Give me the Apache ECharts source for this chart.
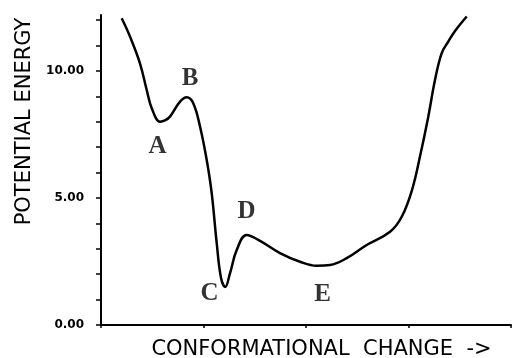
<!DOCTYPE html>
<html>
<head>
<meta charset="utf-8">
<script src="https://cdn.jsdelivr.net/npm/echarts@6/dist/echarts.min.js"></script>
<style>
html,body{margin:0;padding:0;background:#fff;}
#c{width:515px;height:358px;}
</style>
</head>
<body>
<div id="c"></div>
<script>
// Curve samples (conformational coordinate, potential energy)
var curveX = [0.202, 0.283, 0.380, 0.446, 0.495, 0.576, 0.624, 0.673, 0.771, 0.836, 0.900, 0.966, 1.031, 1.080, 1.129, 1.171, 1.212, 1.259, 1.324, 1.421, 1.535, 1.746, 1.941, 2.104, 2.234, 2.397, 2.592, 2.820, 2.934, 3.034, 3.112, 3.193, 3.259, 3.324, 3.388, 3.454, 3.568];
var curveY = [12.07, 11.35, 10.30, 9.25, 8.53, 8.00, 8.05, 8.20, 8.79, 8.96, 8.73, 7.81, 6.50, 5.19, 3.22, 1.85, 1.50, 2.04, 2.95, 3.54, 3.35, 2.83, 2.49, 2.33, 2.36, 2.63, 3.15, 3.67, 4.26, 5.31, 6.63, 8.20, 9.65, 10.70, 11.15, 11.57, 12.14];

// State labels
var stateNames = ['A', 'B', 'C', 'D', 'E'];
var stateX = [0.552, 0.868, 1.058, 1.420, 2.161];
var stateY = [7.03, 9.70, 1.22, 4.45, 1.18];

// Axis ticks
var yTickValues = [0, 1, 2, 3, 4, 5, 6, 7, 8, 9, 10, 11, 12];
var yLabelValues = [0, 5, 10];
var xTickValues = [0, 1, 2, 3, 4];

var curveData = curveX.map(function (x, i) { return [x, curveY[i]]; });
var stateData = stateNames.map(function (n, i) { return { name: n, value: [stateX[i], stateY[i]] }; });

var chart = echarts.init(document.getElementById('c'), null, { renderer: 'canvas' });
chart.setOption({
  animation: false,
  backgroundColor: '#ffffff',
  grid: { left: 101, right: 4, top: 15, bottom: 33, containLabel: false, outerBoundsMode: 'none' },
  xAxis: {
    type: 'value', min: 0, max: 4,
    name: 'CONFORMATIONAL  CHANGE  ->',
    nameLocation: 'middle', nameGap: 14,
    nameTextStyle: { fontFamily: 'DejaVu Sans', fontSize: 21, color: '#000', padding: [0, 0, 0, 31] },
    axisLine: { show: true, onZero: false, lineStyle: { color: '#000', width: 2 } },
    axisTick: { show: true, inside: false, length: 3, customValues: xTickValues, lineStyle: { color: '#000', width: 1.5 } },
    axisLabel: { show: false },
    splitLine: { show: false }
  },
  yAxis: {
    type: 'value', min: 0, max: 12.2,
    name: 'POTENTIAL ENERGY',
    nameLocation: 'middle', nameGap: 64, nameRotate: 90,
    nameTextStyle: { fontFamily: 'DejaVu Sans', fontSize: 21, color: '#000', padding: [0, 0, 0, 97] },
    axisLine: { show: true, onZero: false, lineStyle: { color: '#000', width: 2 } },
    axisTick: { show: true, inside: false, length: 5, customValues: yTickValues, lineStyle: { color: '#000', width: 1.5 } },
    axisLabel: {
      show: true, customValues: yLabelValues, margin: 17,
      fontFamily: 'DejaVu Sans', fontWeight: 'bold', fontSize: 12, color: '#000',
      formatter: function (v) { return v.toFixed(2); }
    },
    splitLine: { show: false }
  },
  series: [
    {
      type: 'line', data: curveData, smooth: 0.4, showSymbol: false, symbol: 'none',
      lineStyle: { color: '#000', width: 2.5 }, clip: true
    },
    {
      type: 'scatter', data: stateData, symbolSize: 1, itemStyle: { color: 'rgba(0,0,0,0)' },
      label: {
        show: true, position: 'inside', formatter: '{b}',
        fontFamily: 'Liberation Serif', fontSize: 25, fontWeight: 'bold', color: '#000'
      }
    }
  ]
});
</script>
</body>
</html>
